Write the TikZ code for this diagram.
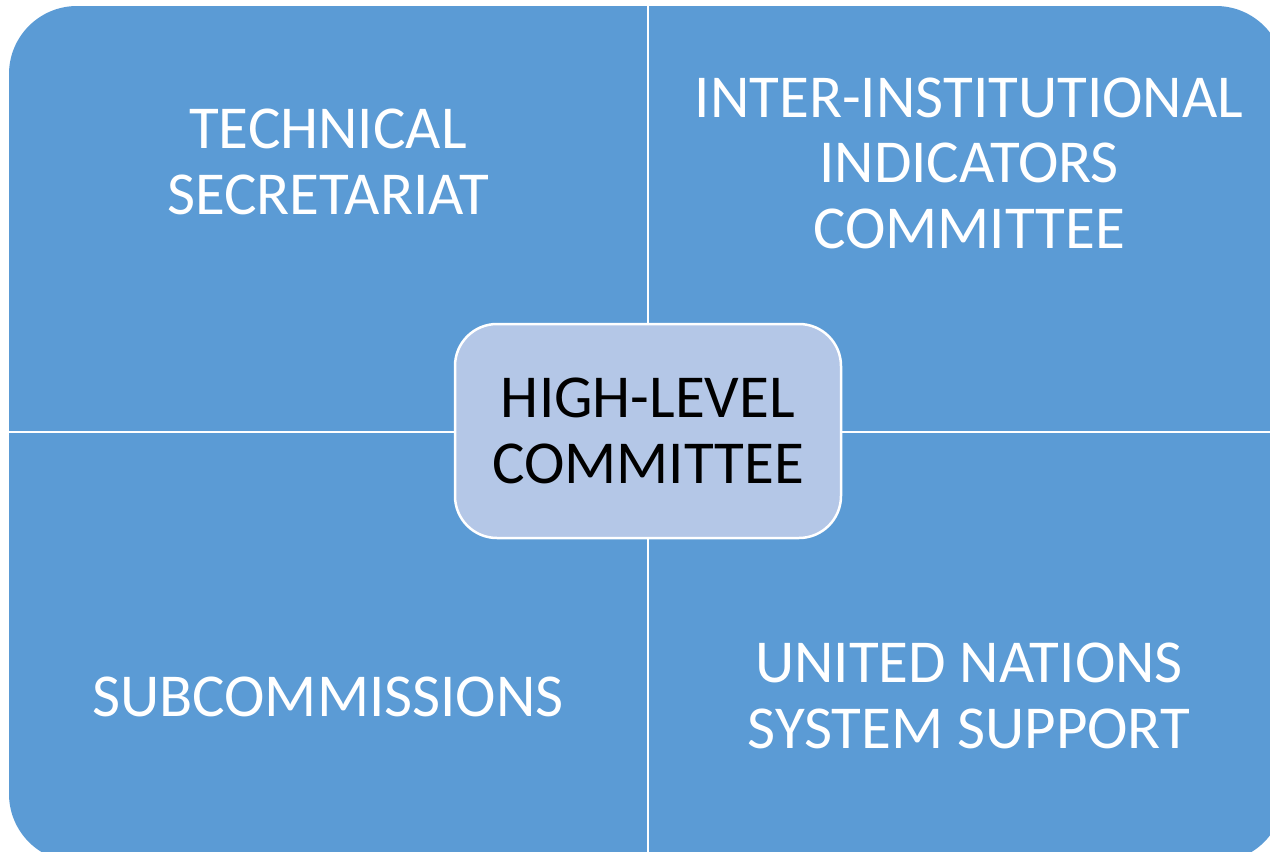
\documentclass[tikz,border=0pt]{standalone}
\usepackage{fontspec}
\setmainfont{Carlito}
\definecolor{quad}{HTML}{5B9BD5}
\definecolor{centerfill}{HTML}{B4C7E7}
\begin{document}
\begin{tikzpicture}[x=1pt,y=-1pt,
  quadtext/.style={text=white,align=center,font=\fontsize{61}{65.5}\selectfont,inner sep=0pt},
  hub/.style={rectangle,rounded corners=42pt,fill=centerfill,draw=white,line width=2.5pt,
    minimum width=386pt,minimum height=214pt,align=center,text=black,
    font=\fontsize{61}{66}\selectfont,inner sep=0pt},
  divider/.style={white,line width=2pt}]
\useasboundingbox (0,0) rectangle (1270,852);
\begin{scope}
\clip (0,0) rectangle (1270,852);
\fill[quad,rounded corners=68pt] (9,6) rectangle (1284,862);
\coordinate (top) at (648,6);
\coordinate (bottom) at (648,862);
\coordinate (left) at (9,432);
\coordinate (right) at (1284,432);
\draw[divider] (top) -- (bottom);
\draw[divider] (left) -- (right);
\end{scope}
\node[hub] (hlc) at (648,431) {HIGH-LEVEL\\COMMITTEE};
\node[quadtext] (ts) at (328,162) {TECHNICAL\\SECRETARIAT};
\node[quadtext] (iic) at (969,163) {INTER-INSTITUTIONAL\\INDICATORS\\COMMITTEE};
\node[quadtext] (sub) at (328,697) {SUBCOMMISSIONS};
\node[quadtext] (uns) at (969,696) {UNITED NATIONS\\SYSTEM SUPPORT};
\end{tikzpicture}
\end{document}
